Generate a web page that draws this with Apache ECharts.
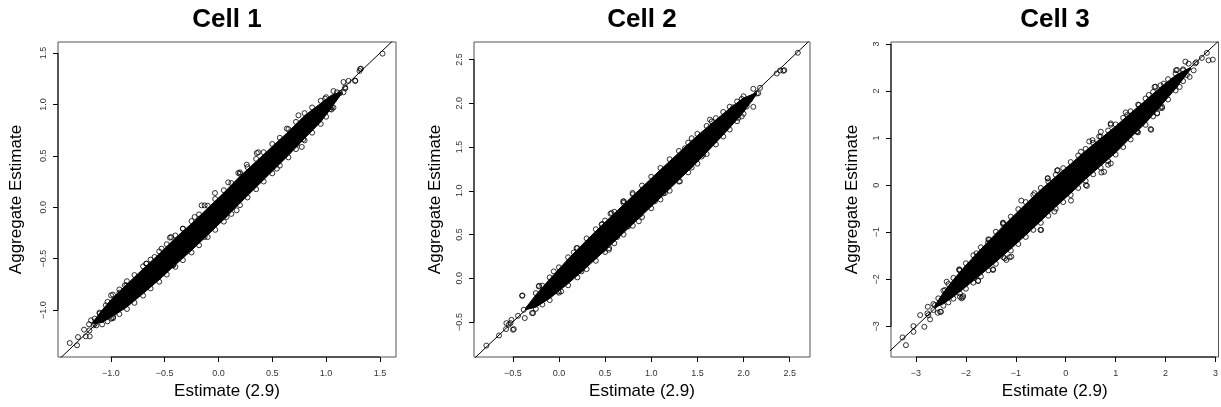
<!DOCTYPE html>
<html>
<head>
<meta charset="utf-8">
<script src="https://cdn.jsdelivr.net/npm/echarts@6/dist/echarts.min.js"></script>
<style>html,body{margin:0;padding:0;background:#fff}#chart{width:1221px;height:407px}</style>
</head>
<body>
<div id="chart"></div>
<script>
// ---------------- DATA ----------------
const panelTitles = ['Cell 1', 'Cell 2', 'Cell 3'];
const xAxisTitle = 'Estimate (2.9)';
const yAxisTitle = 'Aggregate Estimate';

// axis ranges [min, max]
const cell1XRange = [-1.49, 1.649];
const cell1YRange = [-1.457, 1.607];
const cell2XRange = [-0.92, 2.72];
const cell2YRange = [-0.90, 2.70];
const cell3XRange = [-3.50, 3.06];
const cell3YRange = [-3.65, 3.04];

// ticks and labels
const cell1Ticks = [-1.0, -0.5, 0, 0.5, 1.0, 1.5];
const cell1TickLabels = ['\u22121.0', '\u22120.5', '0.0', '0.5', '1.0', '1.5'];
const cell2Ticks = [-0.5, 0, 0.5, 1.0, 1.5, 2.0, 2.5];
const cell2TickLabels = ['\u22120.5', '0.0', '0.5', '1.0', '1.5', '2.0', '2.5'];
const cell3Ticks = [-3, -2, -1, 0, 1, 2, 3];
const cell3TickLabels = ['\u22123', '\u22122', '\u22121', '0', '1', '2', '3'];

// dense core of the point cloud: lower / upper envelope
const cell1BandX  = [-1.16, -1.08, -0.98, -0.85, -0.70, -0.55, -0.40, -0.25, -0.10, 0.05, 0.20, 0.35, 0.50, 0.65, 0.80, 0.95, 1.05, 1.14];
const cell1BandLo = [-1.13, -1.12, -1.06, -0.97, -0.84, -0.705, -0.56, -0.42, -0.27, -0.12, 0.04, 0.195, 0.35, 0.505, 0.67, 0.83, 0.97, 1.10];
const cell1BandHi = [-1.11, -1.00, -0.88, -0.75, -0.60, -0.455, -0.30, -0.16, -0.01, 0.14, 0.30, 0.445, 0.59, 0.735, 0.89, 1.01, 1.09, 1.12];

const cell2BandX  = [-0.36, -0.25, -0.10, 0.10, 0.30, 0.50, 0.70, 0.90, 1.10, 1.30, 1.50, 1.70, 1.85, 2.00, 2.14];
const cell2BandLo = [-0.36, -0.33, -0.23, -0.06, 0.125, 0.32, 0.52, 0.72, 0.92, 1.125, 1.33, 1.55, 1.72, 1.90, 2.10];
const cell2BandHi = [-0.34, -0.19, -0.01, 0.22, 0.435, 0.64, 0.84, 1.04, 1.24, 1.435, 1.63, 1.81, 1.94, 2.06, 2.12];

const cell3BandX  = [-2.62, -2.45, -2.25, -2.00, -1.70, -1.40, -1.10, -0.80, -0.50, -0.20, 0.10, 0.40, 0.70, 1.00, 1.30, 1.60, 1.90, 2.20, 2.50];
const cell3BandLo = [-2.60, -2.52, -2.37, -2.16, -1.90, -1.63, -1.35, -1.06, -0.76, -0.46, -0.17, 0.13, 0.41, 0.69, 1.01, 1.32, 1.68, 2.05, 2.46];
const cell3BandHi = [-2.56, -2.28, -2.01, -1.70, -1.36, -1.03, -0.71, -0.40, -0.10, 0.18, 0.45, 0.73, 0.99, 1.25, 1.53, 1.80, 2.08, 2.33, 2.50];

// individual points visible around / outside the dense core
const cell1Points = [
  [-1.381,-1.321],[-1.313,-1.343],[-1.304,-1.263],[-1.248,-1.191],[-1.202,-1.139],[-1.232,-1.256],[-1.195,-1.256],
  [-1.149,-1.084],[-1.133,-1.149],[-1.102,-1.035],[-1.046,-0.954],[-0.978,-1.068],[-0.869,-0.760],[-1.198,-1.198],
  [-1.158,-1.149],[-1.146,-1.132],[-1.183,-1.100],[-1.105,-1.025],[-0.997,-0.857],[-0.919,-0.831],[-0.997,-1.084],
  [-0.795,-0.874],[-0.671,-0.549],[-0.593,-0.484],[-0.532,-0.646],[-0.423,-0.565],[-0.439,-0.290],[-0.346,-0.468],
  [-0.330,-0.208],[-0.221,-0.095],[-0.128,-0.290],[-0.128,0.018],[0.058,-0.079],
  [0.743,0.894],[0.635,0.764],[0.542,0.375],[0.356,0.527],[0.263,0.414],[0.184,0.333],[0.169,-0.030],[0.076,-0.095],
  [-0.032,0.138],[-0.156,0.018],[-0.342,-0.468],[-0.420,-0.565],[-0.451,-0.296],[-0.528,-0.403],[-0.668,-0.549],[-0.854,-0.760],
  [1.524,1.494],[1.323,1.348],[1.310,1.325],[1.161,1.218],[1.208,1.228],[1.270,1.228],[1.177,1.154],[1.068,1.130],
  [1.130,1.111],[1.022,0.969],[1.068,0.969],[0.991,1.056],[0.960,0.911],[0.789,0.699],[0.696,0.602],[0.774,0.586],
  [0.789,0.663],[0.728,0.615],[0.370,0.534],[0.200,0.339],[0.091,0.242],[1.100,1.118],[1.053,0.972],[0.975,0.988],
  [1.037,0.955],[0.991,0.923],[1.177,1.166],[1.161,1.118],[1.270,1.232],[1.317,1.344],
  [-1.03,-0.92],[-0.92,-0.80],[-0.78,-0.66],[-0.63,-0.51],[-0.48,-0.36],[-0.33,-0.21],[-0.18,-0.07],[-0.03,0.08],
  [0.12,0.235],[0.27,0.39],[0.42,0.535],[0.57,0.675],[0.72,0.83],[0.87,0.97],[1.00,1.07],
  [-0.98,-0.85],[-0.85,-0.72],[-0.70,-0.575],[-0.55,-0.43],[-0.40,-0.275],[-0.25,-0.135],[-0.10,0.015],[0.05,0.165],
  [0.20,0.325],[0.35,0.47],[0.50,0.615],[0.65,0.76],[0.80,0.915],[0.95,1.035],
  [-1.08,-1.14],[-0.98,-1.08],[-0.85,-0.99],[-0.70,-0.86],[-0.55,-0.725],[-0.40,-0.58],[-0.25,-0.44],[-0.10,-0.29],
  [0.05,-0.14],[0.20,0.02],[0.35,0.175],[0.50,0.33],[0.65,0.485],[0.80,0.65],[0.95,0.81],[1.05,0.95],
  [-1.03,-1.11],[-0.92,-1.04],[-0.78,-0.93],[-0.63,-0.79],[-0.48,-0.655],[-0.33,-0.515],[-0.18,-0.37],[-0.03,-0.22],
  [0.12,-0.065],[0.27,0.095],[0.42,0.25],[0.57,0.405],[0.72,0.565],[0.87,0.725],[1.00,0.88]
];

const cell2Points = [
  [-0.786,-0.769],[-0.649,-0.654],[-0.569,-0.513],[-0.514,-0.475],[-0.497,-0.589],[-0.443,-0.429],[-0.395,-0.197],
  [-0.370,-0.455],[-0.280,-0.398],[-0.215,-0.086],[-0.056,0.078],[-0.009,-0.151],[0.191,0.345],[0.245,0.078],
  [0.479,0.326],[0.544,0.345],[0.462,0.612],[0.570,0.746],[0.696,0.879],[0.750,0.593],[0.798,0.975],[0.877,0.727],
  [1.040,0.879],[1.148,0.975],[1.238,1.184],[1.311,1.108],[1.419,1.279],[1.474,1.490],[1.564,1.413],[1.636,1.813],
  [1.853,1.794],[1.943,1.833],[2.106,1.959],[2.106,2.165],[2.179,2.176],[2.070,2.042],[2.143,2.111],[2.360,2.340],
  [2.396,2.374],[2.442,2.378],[2.588,2.577],[1.980,2.050],[1.889,1.954],
  [-0.573,-0.581],[-0.525,-0.513],[-0.489,-0.581],[-0.544,-0.532],[-0.399,-0.200],[-0.291,-0.398],[-0.381,-0.360],
  [-0.218,-0.094],[0.024,-0.151],[0.161,0.295],[0.241,0.097],[0.468,0.620],[0.559,0.738],[0.541,0.326],[0.631,0.471],
  [0.704,0.879],[0.866,0.651],[2.431,2.371],[2.160,2.115],[1.980,1.849],[2.034,1.963],[1.872,1.925],[1.655,1.791],
  [1.438,1.600],[1.365,1.485],[1.546,1.391],[1.438,1.265],[1.130,0.970],[1.618,1.562],
  [-0.25,-0.17],[-0.10,0.01],[0.10,0.24],[0.30,0.455],[0.50,0.66],[0.70,0.86],[0.90,1.06],[1.10,1.26],[1.30,1.455],
  [1.50,1.65],[1.70,1.83],[1.85,1.96],[2.00,2.08],
  [-0.18,-0.085],[0.00,0.125],[0.20,0.345],[0.40,0.56],[0.60,0.76],[0.80,0.96],[1.00,1.16],[1.20,1.36],[1.40,1.55],
  [1.60,1.74],[1.78,1.90],[1.93,2.02],
  [-0.25,-0.35],[-0.10,-0.25],[0.10,-0.08],[0.30,0.105],[0.50,0.30],[0.70,0.50],[0.90,0.70],[1.10,0.90],[1.30,1.105],
  [1.50,1.31],[1.70,1.53],[1.85,1.70],[2.00,1.88],
  [-0.18,-0.30],[0.00,-0.165],[0.20,0.01],[0.40,0.20],[0.60,0.40],[0.80,0.60],[1.00,0.80],[1.20,1.00],[1.40,1.21],
  [1.60,1.42],[1.78,1.62],[1.93,1.795]
];

const cell3Points = [
  [-3.269,-3.234],[-3.201,-3.398],[-3.050,-2.994],[-3.050,-3.115],[-2.916,-2.760],[-2.831,-3.009],[-2.763,-2.583],
  [-2.751,-2.760],[-2.717,-2.851],[-2.651,-2.526],[-2.564,-2.711],[-2.498,-2.690],[-2.552,-2.404],[-2.384,-2.051],
  [-2.418,-2.228],[-2.253,-2.157],[-2.133,-1.787],[-2.086,-2.404],[-2.053,-2.355],[-1.986,-1.817],[-1.755,-2.036],
  [-1.536,-1.164],[-1.456,-1.787],[-1.257,-0.796],[-1.189,-1.589],[-1.090,-1.519],[-0.890,-0.328],[-0.626,-0.170],
  [-0.506,-0.951],[-0.360,0.149],[-0.173,0.311],[0.106,-0.328],[0.424,-0.015],[0.470,0.928],[0.669,1.034],
  [0.715,0.268],[0.849,0.432],[0.902,1.283],[1.201,1.545],[1.420,1.140],[1.712,1.177],[1.779,2.085],[1.831,1.532],
  [1.930,1.638],[1.964,2.155],[2.209,2.438],[2.297,2.326],[2.349,2.438],[2.283,2.085],[2.462,2.581],[2.482,2.298],
  [2.562,2.438],[2.615,2.609],[2.727,2.702],[2.827,2.809],[2.861,2.651],[2.946,2.666],
  [-2.771,-2.723],[-2.618,-2.547],[-2.651,-2.653],[-2.518,-2.689],[-2.452,-2.404],[-2.120,-2.370],[-2.066,-2.383],
  [-2.133,-1.802],[-1.787,-1.447],[-1.755,-2.030],[-1.456,-1.802],[-1.556,-1.221],[-1.223,-1.553],[-1.124,-1.532],
  [-1.257,-0.809],[-0.492,-0.951],[-0.227,-0.562],
  [2.596,2.587],[2.396,2.623],[2.229,2.447],[2.428,2.340],[2.197,2.234],[1.799,2.091],[1.865,1.809],[1.930,1.666],
  [1.831,1.523],[1.699,1.191],[1.665,1.915],[1.466,1.702],[1.233,1.489],[0.902,1.311],[0.703,1.134],[0.536,0.957],
  [1.432,1.134],[0.769,0.283],[0.902,0.460],[0.404,0.000],[0.305,0.709],[-0.161,0.319],[-0.361,0.140],
  [-2.45,-2.24],[-2.25,-1.97],[-2.00,-1.66],[-1.70,-1.32],[-1.40,-0.99],[-1.10,-0.67],[-0.80,-0.36],[-0.50,-0.06],
  [-0.20,0.22],[0.10,0.49],[0.40,0.77],[0.70,1.03],[1.00,1.29],[1.30,1.57],[1.60,1.84],[1.90,2.12],[2.20,2.37],
  [-2.35,-2.10],[-2.12,-1.81],[-1.85,-1.49],[-1.55,-1.15],[-1.25,-0.83],[-0.95,-0.51],[-0.65,-0.21],[-0.35,0.08],
  [-0.05,0.36],[0.25,0.63],[0.55,0.90],[0.85,1.16],[1.15,1.43],[1.45,1.71],[1.75,1.98],[2.05,2.25],[2.35,2.46],
  [-2.45,-2.56],[-2.25,-2.41],[-2.00,-2.20],[-1.70,-1.94],[-1.40,-1.67],[-1.10,-1.39],[-0.80,-1.10],[-0.50,-0.80],
  [-0.20,-0.50],[0.10,-0.21],[0.40,0.09],[0.70,0.37],[1.00,0.65],[1.30,0.97],[1.60,1.28],[1.90,1.64],[2.20,2.01],
  [-2.35,-2.49],[-2.12,-2.30],[-1.85,-2.07],[-1.55,-1.81],[-1.25,-1.53],[-0.95,-1.25],[-0.65,-0.95],[-0.35,-0.65],
  [-0.05,-0.36],[0.25,-0.06],[0.55,0.23],[0.85,0.51],[1.15,0.81],[1.45,1.12],[1.75,1.46],[2.05,1.82],[2.35,2.21]
];

// ---------------- CHART ----------------
const FONT = '"Liberation Sans", Arial, Helvetica, sans-serif';
const panels = [
  { title: panelTitles[0], xr: cell1XRange, yr: cell1YRange, ticks: cell1Ticks, labels: cell1TickLabels,
    bx: cell1BandX, blo: cell1BandLo, bhi: cell1BandHi, pts: cell1Points,
    grid: { left: 58, top: 42, width: 338, height: 315 }, yNameGap: 33 },
  { title: panelTitles[1], xr: cell2XRange, yr: cell2YRange, ticks: cell2Ticks, labels: cell2TickLabels,
    bx: cell2BandX, blo: cell2BandLo, bhi: cell2BandHi, pts: cell2Points,
    grid: { left: 474, top: 42, width: 336, height: 315 }, yNameGap: 30 },
  { title: panelTitles[2], xr: cell3XRange, yr: cell3YRange, ticks: cell3Ticks, labels: cell3TickLabels,
    bx: cell3BandX, blo: cell3BandLo, bhi: cell3BandHi, pts: cell3Points,
    grid: { left: 891, top: 42, width: 328, height: 315 }, yNameGap: 30 }
];

function fmt(ticks, labels) {
  return function (v) {
    const i = ticks.findIndex(t => Math.abs(t - v) < 1e-6);
    return i >= 0 ? labels[i] : '';
  };
}

const option = {
  animation: false,
  backgroundColor: '#fff',
  title: [], grid: [], xAxis: [], yAxis: [], series: []
};

panels.forEach((p, i) => {
  option.title.push({
    text: p.title, left: p.grid.left + p.grid.width / 2, top: 7, textAlign: 'center', padding: 0,
    textStyle: { fontSize: 26, fontWeight: 'bold', fontFamily: FONT, color: '#000' }
  });
  option.grid.push(Object.assign({ show: true, borderColor: '#555', borderWidth: 1, backgroundColor: 'transparent' }, p.grid));
  option.xAxis.push({
    gridIndex: i, type: 'value', min: p.xr[0], max: p.xr[1],
    splitLine: { show: false },
    axisLine: { show: false, onZero: false },
    axisTick: { show: true, inside: false, length: 5, customValues: p.ticks, lineStyle: { color: '#000', width: 1 } },
    axisLabel: { customValues: p.ticks, formatter: fmt(p.ticks, p.labels), fontSize: 9, color: '#333', margin: 12, fontFamily: FONT },
    name: xAxisTitle, nameLocation: 'middle', nameGap: 26,
    nameTextStyle: { fontSize: 17, color: '#000', fontFamily: FONT }
  });
  option.yAxis.push({
    gridIndex: i, type: 'value', min: p.yr[0], max: p.yr[1],
    splitLine: { show: false },
    axisLine: { show: false, onZero: false },
    axisTick: { show: true, inside: false, length: 5, customValues: p.ticks, lineStyle: { color: '#000', width: 1 } },
    axisLabel: { customValues: p.ticks, formatter: fmt(p.ticks, p.labels), fontSize: 9, color: '#333', margin: 10, rotate: 90, fontFamily: FONT },
    name: yAxisTitle, nameLocation: 'middle', nameGap: p.yNameGap, nameRotate: 90,
    nameTextStyle: { fontSize: 17, color: '#000', fontFamily: FONT }
  });
  // dense core
  option.series.push({
    type: 'custom', xAxisIndex: i, yAxisIndex: i, silent: true, clip: true,
    data: [[p.bx[0], p.blo[0]]],
    renderItem: function (params, api) {
      const pts = [];
      for (let k = 0; k < p.bx.length; k++) pts.push(api.coord([p.bx[k], p.bhi[k]]));
      for (let k = p.bx.length - 1; k >= 0; k--) pts.push(api.coord([p.bx[k], p.blo[k]]));
      return { type: 'polygon', shape: { points: pts }, style: { fill: '#000', stroke: '#000', lineWidth: 1 } };
    }
  });
  // points
  option.series.push({
    type: 'scatter', xAxisIndex: i, yAxisIndex: i, silent: true,
    data: p.pts, symbol: 'circle', symbolSize: 5,
    itemStyle: { color: 'rgba(0,0,0,0)', borderColor: '#000', borderWidth: 1 }
  });
  // y = x reference line
  option.series.push({
    type: 'line', xAxisIndex: i, yAxisIndex: i, silent: true, clip: true,
    data: [[p.xr[0] - 0.5, p.xr[0] - 0.5], [p.xr[1] + 0.5, p.xr[1] + 0.5]],
    symbol: 'none', lineStyle: { color: '#000', width: 1 }
  });
  // R-style axis lines spanning first..last tick
  option.series.push({
    type: 'line', xAxisIndex: i, yAxisIndex: i, silent: true, clip: false,
    data: [[p.ticks[0], p.yr[0]], [p.ticks[p.ticks.length - 1], p.yr[0]]],
    symbol: 'none', lineStyle: { color: '#000', width: 1 }
  });
  option.series.push({
    type: 'line', xAxisIndex: i, yAxisIndex: i, silent: true, clip: false,
    data: [[p.xr[0], p.ticks[0]], [p.xr[0], p.ticks[p.ticks.length - 1]]],
    symbol: 'none', lineStyle: { color: '#000', width: 1 }
  });
});

const chart = echarts.init(document.getElementById('chart'), null, { renderer: 'canvas' });
chart.setOption(option);
</script>
</body>
</html>
